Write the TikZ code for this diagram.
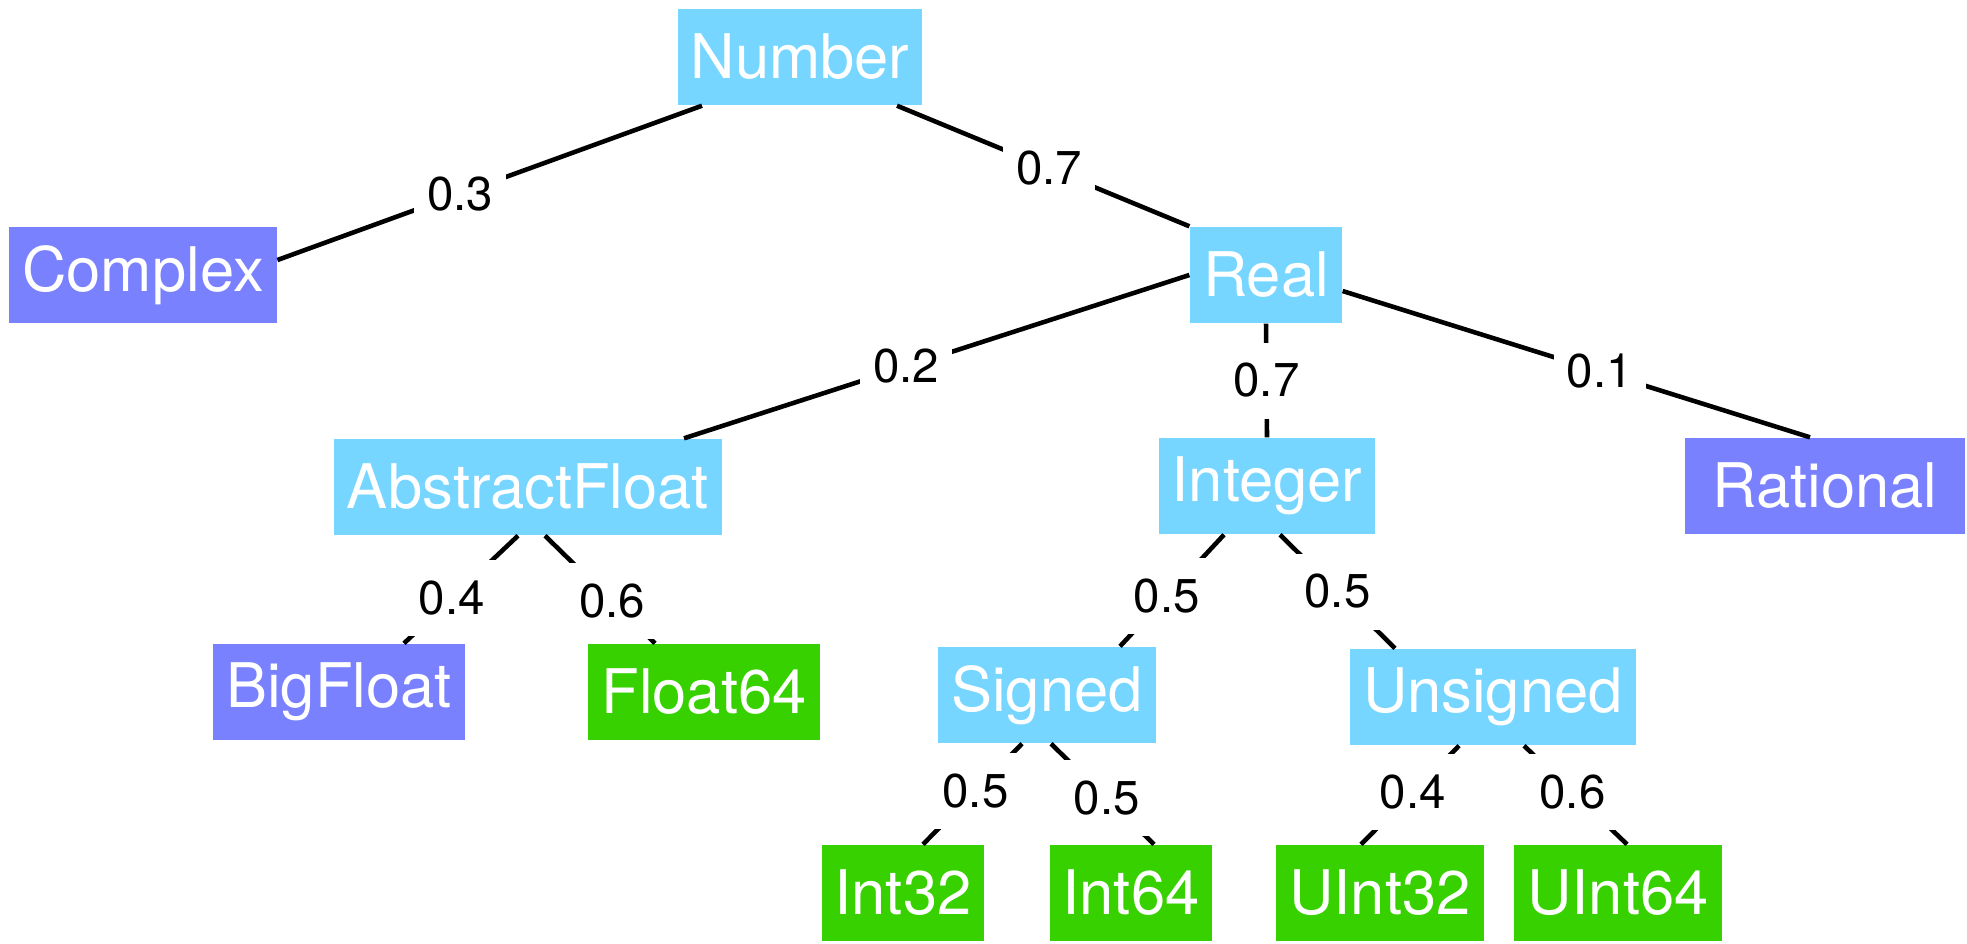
\documentclass[tikz,border=0pt]{standalone}
\usepackage{fontspec}
\setmainfont{TeX Gyre Heros}
\definecolor{abstractBlue}{HTML}{76D6FF}
\definecolor{unionPurple}{HTML}{7A81FF}
\definecolor{concreteGreen}{HTML}{38D100}

\begin{document}
\begin{tikzpicture}[
    abstract/.style={rectangle, fill=abstractBlue, text=white, inner xsep=0.13cm, minimum height=0.96cm, font=\fontsize{17.5}{20}\selectfont},
    other/.style={rectangle, fill=unionPurple, text=white, inner xsep=0.13cm, minimum height=0.96cm, font=\fontsize{17.5}{20}\selectfont},
    concrete/.style={rectangle, fill=concreteGreen, text=white, inner xsep=0.13cm, minimum height=0.96cm, font=\fontsize{17.5}{20}\selectfont},
    prob/.style={fill=white, inner xsep=0.13cm, inner ysep=0pt, minimum height=0.76cm, font=\fontsize{13.5}{15}\selectfont},
    edge/.style={line width=1.3pt}
]
    \useasboundingbox (0,0) rectangle (19.67,-9.43);

    \node[abstract] (number) at (8.00,-0.57) {Number};

    \node[other] (complex) at (1.43,-2.75) {Complex};
    \node[abstract] (real) at (12.66,-2.75) {Real};

    \node[abstract] (abstractfloat) at (5.28,-4.87) {AbstractFloat};
    \node[abstract] (integer) at (12.67,-4.86) {Integer};
    \node[other, minimum width=2.8cm] (rational) at (18.25,-4.86) {Rational};

    \node[other] (bigfloat) at (3.39,-6.92) {BigFloat};
    \node[concrete] (float64) at (7.04,-6.92) {Float64};
    \node[abstract] (signed) at (10.47,-6.95) {Signed};
    \node[abstract] (unsigned) at (14.93,-6.97) {Unsigned};

    \node[concrete] (int32) at (9.03,-8.93) {Int32};
    \node[concrete] (int64) at (11.31,-8.93) {Int64};
    \node[concrete] (uint32) at (13.80,-8.93) {UInt32};
    \node[concrete] (uint64) at (16.18,-8.93) {UInt64};

    \draw[edge] ([xshift=-0.98cm]number.south) -- node[prob, pos=0.57] {0.3} ([yshift=0.15cm]complex.east);
    \draw[edge] ([xshift=0.97cm]number.south) -- node[prob, pos=0.52] {0.7} (real.north west);

    \draw[edge] (real.west) -- node[prob, pos=0.56] {0.2} ([xshift=1.56cm]abstractfloat.north);
    \draw[edge] (real.south) -- node[prob, pos=0.5] {0.7} (integer.north);
    \draw[edge] ([yshift=-0.16cm]real.east) -- node[prob, pos=0.55] {0.1} ([xshift=-0.15cm]rational.north);

    \draw[edge] ([xshift=-0.10cm]abstractfloat.south) -- node[prob, pos=0.58] {0.4} ([xshift=0.65cm]bigfloat.north);
    \draw[edge] ([xshift=0.17cm]abstractfloat.south) -- node[prob, pos=0.61] {0.6} ([xshift=-0.49cm]float64.north);

    \draw[edge] ([xshift=-0.43cm]integer.south) -- node[prob, pos=0.55] {0.5} ([xshift=0.73cm]signed.north);
    \draw[edge] ([xshift=0.13cm]integer.south) -- node[prob, pos=0.5] {0.5} ([xshift=-0.98cm]unsigned.north);

    \draw[edge] ([xshift=-0.25cm]signed.south) -- node[prob, pos=0.47] {0.5} ([xshift=0.20cm]int32.north);
    \draw[edge] ([xshift=0.04cm]signed.south) -- node[prob, pos=0.54] {0.5} ([xshift=0.23cm]int64.north);
    \draw[edge] ([xshift=-0.34cm]unsigned.south) -- node[prob, pos=0.47] {0.4} ([xshift=-0.19cm]uint32.north);
    \draw[edge] ([xshift=0.31cm]unsigned.south) -- node[prob, pos=0.47] {0.6} ([xshift=0.09cm]uint64.north);
\end{tikzpicture}
\end{document}
